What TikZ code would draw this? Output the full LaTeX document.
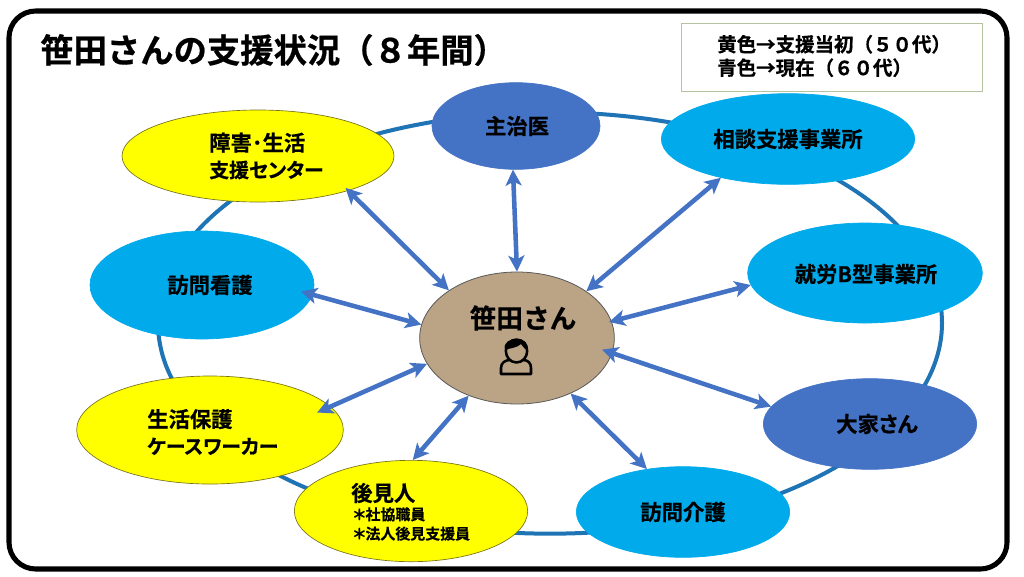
\documentclass[tikz,border=0pt]{standalone}
\usepackage{fontspec}
\setmainfont{Noto Sans CJK JP}[BoldFont={* Bold},BoldFeatures={FakeBold=0.6,RawFeature=+palt}]
\newfontfamily\solidfont{Noto Sans CJK JP Bold}[FakeBold=0.6]
\usetikzlibrary{shapes.geometric,arrows.meta}
\definecolor{ringblue}{HTML}{1F74B5}
\definecolor{arrowblue}{HTML}{4472C4}
\definecolor{skyblue}{HTML}{00AAEB}
\definecolor{deepblue}{HTML}{4472C4}
\definecolor{sunyellow}{HTML}{FFFF00}
\definecolor{hubtan}{HTML}{BBA386}
\definecolor{legendedge}{HTML}{B5C4A0}
\newcommand{\kanaline}{\fontsize{14.9}{20}\selectfont}
\tikzset{
  x=0.75pt,y=-0.75pt,
  party/.style={ellipse,fill=#1,inner sep=0pt,line width=0.5pt},
  sky/.style={party=skyblue,draw=skyblue},
  deep/.style={party=deepblue,draw=deepblue},
  sun/.style={party=sunyellow,draw=olive!80!black},
  lab/.style={font=\bfseries\fontsize{16}{20}\selectfont,align=left,inner sep=0pt,text=black},
  link/.style={draw=arrowblue,line width=3.4pt,{Stealth[length=12pt,width=12pt,inset=3pt]}-{Stealth[length=12pt,width=12pt,inset=3pt]}},
  ring/.style={ellipse,draw=ringblue,line width=3pt,inner sep=0pt},
}
\begin{document}
\begin{tikzpicture}
\useasboundingbox (0,0) rectangle (1024,576);
% outer frame
\draw[black,line width=3.8pt,fill=white,rounded corners=20pt] (9,11) rectangle (1007,569);
% ring joining the parties
\node[ring,minimum width=588pt,minimum height=316pt] (ring) at (550,323) {};
% title and legend
\node[anchor=west,inner sep=0pt,font=\solidfont\fontsize{25}{28}\selectfont] (title) at (40,50) {笹田さんの支援状況（８年間）};
\node[draw=legendedge,line width=0.8pt,minimum width=226pt,minimum height=51pt,anchor=north west,fill=white] (legend) at (681,23) {};
\node[anchor=west,align=left,inner sep=0pt,font=\solidfont\fontsize{14.6}{17.6}\selectfont] (legendtext) at (717,56) {黄色→支援当初（５０代）\\青色→現在（６０代）};
% parties around the ring
\node[deep,minimum width=126pt,minimum height=65pt] (doctor) at (516,126) {};
\node[sky,minimum width=190pt,minimum height=68pt] (soudan) at (788,139) {};
\node[sky,minimum width=176pt,minimum height=75pt] (shuro) at (865,273) {};
\node[deep,minimum width=160pt,minimum height=68pt] (ooya) at (870,424) {};
\node[sky,minimum width=160pt,minimum height=68pt] (kaigo) at (683,512) {};
\node[sun,minimum width=175pt,minimum height=76pt] (koken) at (411,511) {};
\node[sun,minimum width=200pt,minimum height=81pt] (hogo) at (210,430) {};
\node[sky,minimum width=168pt,minimum height=81pt] (kango) at (202,285) {};
\node[sun,minimum width=204pt,minimum height=69pt] (shogai) at (258,156) {};
% party names
\node[lab] (doctorname) at (517,126) {主治医};
\node[lab] (soudanname) at (788,139) {相談支援事業所};
\node[lab] (shuroname) at (866,274) {就労B型事業所};
\node[lab] (ooyaname) at (877,424) {大家さん};
\node[lab] (kaigoname) at (683,512) {訪問介護};
\node[lab] (kangoname) at (210,285) {訪問看護};
\node[lab,anchor=west] (hogoname) at (147,432) {生活保護\\{\kanaline ケースワーカー}};
\node[lab,anchor=west] (shogainame) at (209,156) {障害･生活\\{\kanaline 支援センター}};
\node[lab,anchor=west] (kokenhead) at (351,493) {後見人};
\node[lab,anchor=west,font=\bfseries\fontsize{11.2}{14.5}\selectfont] (kokensub) at (353,524) {＊社協職員\\＊法人後見支援員};
% centre
\node[ellipse,draw=gray!70!black,line width=0.6pt,fill=hubtan,minimum width=146pt,minimum height=99pt,inner sep=0pt] (hub) at (517,338) {};
\node[inner sep=0pt,font=\solidfont\fontsize{20}{24}\selectfont] (hubname) at (523,318) {笹田さん};
% person pictogram
\begin{scope}[line width=1.9pt,line join=round]
  \draw[fill=hubtan] (501,374) -- (501,368) .. controls (501,363) and (505,360) .. (510,360) -- (523,360) .. controls (528,360) and (531,363) .. (531,368) -- (531,374) -- cycle;
  \draw[fill=hubtan] (516.5,351) ellipse (8pt and 8.6pt);
  \fill[black] (505,350) .. controls (503,342) and (510,339) .. (517,339) .. controls (525,339) and (529,344) .. (527.5,351) .. controls (525,349) and (523,347) .. (521,344) .. controls (517,348) and (510,348) .. (505,350) -- cycle;
\end{scope}
% links from the centre to each party
\draw[link] (doctor.-94) -- (hub.90);
\draw[link] (soudan.210) -- (hub.34.4);
\draw[link,shorten >=-2pt] (shuro.186) -- (hub.10.9);
\draw[link,shorten >=-8pt] (ooya.170) -- (hub.-9.5);
\draw[link] (kaigo.130) -- (hub.-46);
\draw[link] (koken.88) -- (hub.230.9);
\draw[link,shorten <=-11pt] (hogo.11.9) -- (hub.196.5);
\draw[link,shorten <=-9pt] (kango.-5.7) -- (hub.172.5);
\draw[link,shorten <=-3pt] (shogai.-21) -- (hub.145.2);
\end{tikzpicture}
\end{document}
